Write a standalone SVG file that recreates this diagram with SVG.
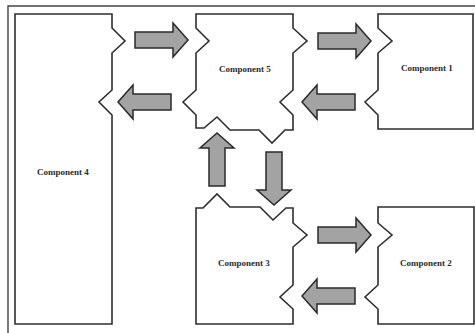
<svg xmlns="http://www.w3.org/2000/svg" xmlns:xlink="http://www.w3.org/1999/xlink" width="475" height="333" viewBox="0 0 475 333">
  <style>
    .box { fill: #ffffff; stroke: #2e2e2e; stroke-width: 1.6; stroke-linejoin: miter; }
    .frame { fill: none; stroke: #444444; stroke-width: 1.4; }
    .label { font-family: "Liberation Serif", "Times New Roman", serif; font-size: 9px; font-weight: bold; fill: #2a2a2a; text-anchor: middle; }
    .flow { fill: #a3a3a3; stroke: #2a2a2a; stroke-width: 1.5; stroke-linejoin: miter; }
  </style>
  <defs>
    <!-- block arrow pointing right, tail at origin -->
    <polygon id="blockArrow" points="0,-8 38,-8 38,-17 53,0 38,17 38,8 0,8"/>
  </defs>
  <rect width="475" height="333" fill="#ffffff"/>

  <!-- enclosing frame -->
  <path class="frame" d="M8,333 V6 H475"/>

  <g id="component4">
    <path class="box" d="M15,14 H112 V28 L125,41 L112,53 V90 L99,102 L112,115 V324 H15 Z"/>
    <text class="label" x="63" y="175">Component 4</text>
  </g>

  <g id="component5">
    <path class="box" d="M196,14 H293 V28 L307,41 L293,53 V90 L280,102 L293,115 V130 H285 L272,143 L259,130 H230 L217,117 L204,128 H196 V115 L183,102 L196,90 V53 L209,41 L196,28 Z"/>
    <text class="label" x="245" y="72">Component 5</text>
  </g>

  <g id="component1">
    <path class="box" d="M378,14 H473 V129 H378 V115 L365,102 L378,90 V53 L392,41 L378,28 Z"/>
    <text class="label" x="427" y="71">Component 1</text>
  </g>

  <g id="component3">
    <path class="box" d="M196,208 H203 L217,194 L230,207 H260 L273,220 L286,208 H293 V223 L307,235 L293,247 V285 L280,297 L293,309 V324 H196 Z"/>
    <text class="label" x="244" y="266">Component 3</text>
  </g>

  <g id="component2">
    <path class="box" d="M378,207 H474 V324 H378 V309 L365,297 L378,285 V247 L392,235 L378,223 Z"/>
    <text class="label" x="426" y="266">Component 2</text>
  </g>

  <g id="connectors">
    <use xlink:href="#blockArrow" class="flow" transform="translate(135,40)"/>
    <use xlink:href="#blockArrow" class="flow" transform="translate(171,102) rotate(180)"/>
    <use xlink:href="#blockArrow" class="flow" transform="translate(318,41)"/>
    <use xlink:href="#blockArrow" class="flow" transform="translate(355,102) rotate(180)"/>
    <use xlink:href="#blockArrow" class="flow" transform="translate(217,186) rotate(-90)"/>
    <use xlink:href="#blockArrow" class="flow" transform="translate(274,152) rotate(90)"/>
    <use xlink:href="#blockArrow" class="flow" transform="translate(318,235)"/>
    <use xlink:href="#blockArrow" class="flow" transform="translate(355,296) rotate(180)"/>
  </g>
</svg>
